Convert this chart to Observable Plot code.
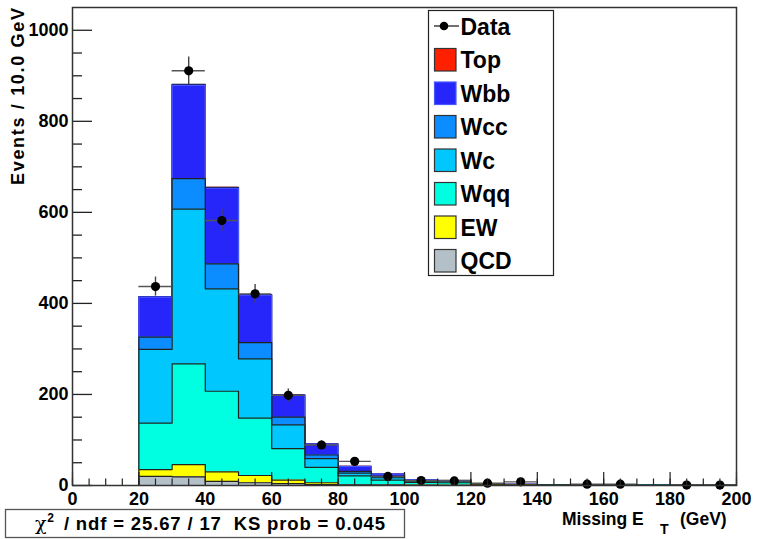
<!DOCTYPE html>
<html><head><meta charset="utf-8">
<script src="https://cdn.jsdelivr.net/npm/d3@7"></script>
<script src="https://cdn.jsdelivr.net/npm/@observablehq/plot@0.6"></script>
<style>
body{margin:0;background:#fff;}
#chart{position:relative;width:758px;height:539px;}
</style></head><body><div id="chart"></div>
<script>
// ---- data ----
const binLow = [20,30,40,50,60,70,80,90,100,110,120,130,140,150,160,170,180,190];
const binWidth = 10;
const components = ["QCD","EW","Wqq","Wc","Wcc","Wbb","Top"];
const qcd = [20,19,9,6,4,2,1,1,0.5,0.3,0.2,0.2,0.1,0.1,0.1,0.05,0.05,0.05];
const ew  = [15,27,21,16,8,4,1,0.5,0.5,0.3,0.2,0.1,0.1,0.1,0.05,0.05,0.05,0.05];
const wqq = [102,221,177,126,69,34,19,10.5,6,5.4,1.6,1.4,0.8,0.6,0.5,0.3,0.2,0.2];
const wc  = [162,340,225,130,52,19,6,5,1,1.5,0.4,0.3,0.2,0.2,0.1,0.1,0.1,0.05];
const wcc = [27,67,55,36,17,8,4,3,1.5,1.5,0.3,0.2,0.1,0.1,0.1,0.05,0.05,0.05];
const wbb = [88,205,166,104,48,24,11,5,3,2,0.6,0.3,0.2,0.2,0.1,0.1,0.05,0.05];
const topq = [1,2,2,1.5,1,0.5,0.3,0.2,0.1,0.1,0.1,0.05,0.05,0.05,0.05,0.02,0.02,0.02];
const compColors = ["#b4c0c8","#ffff00","#00ffe0","#00c8ff","#0b8cff","#2626fa","#ff2000"];
const compLines  = ["#222","#222","#222","#222","#222","#4a58ff","#111"];
const dataX = [25,35,45,55,65,75,85,95,105,115,125,135,155,165,185,195];
const dataY = [437,911,582,421,198,89,53,20,11,10,5,8,3,3,1,1];
const yTicks = [0,200,400,600,800,1000];
const yMinorTicks = [50,100,150,250,300,350,450,500,550,650,700,750,850,900,950];
const xTicks = [0,20,40,60,80,100,120,140,160,180,200];
const legendLabels = ["Data","Top","Wbb","Wcc","Wc","Wqq","EW","QCD"];
const yTitle = "Events / 10.0 GeV";
const fitText = ["/ ndf = 25.67 / 17  KS prob = 0.045"];

// ---- derived tables ----
const layers = [qcd, ew, wqq, wc, wcc, wbb, topq];
const cum = [];
let run = binLow.map(() => 0);
layers.forEach(arr => { run = run.map((v, i) => v + arr[i]); cum.push(run.slice()); });
const lastEdge = binLow[binLow.length - 1] + binWidth;
const stepRows = c => [...binLow.map((x, i) => ({x, y: c[i]})), {x: lastEdge, y: c[c.length - 1]}];
const outlineRows = c => [{x: binLow[0], y: 0}, ...stepRows(c), {x: lastEdge, y: 0}];
const points = dataX.map((x, i) => ({x, y: dataY[i], e: Math.sqrt(dataY[i])}));
const fmt = d3.format("d");

const W = 758, H = 539, ML = 72, MR = 22, MT = 7, MB = 54;
const frameW = W - ML - MR;

const marks = [];
for (let k = layers.length - 1; k >= 0; k--) {
  marks.push(Plot.areaY(stepRows(cum[k]), {x: "x", y1: () => 0, y2: "y", curve: "step-after", fill: compColors[k]}));
  marks.push(Plot.lineY(outlineRows(cum[k]), {x: "x", y: "y", curve: "step-after", stroke: compLines[k], strokeWidth: 1.2}));
}
marks.push(
  Plot.ruleY(points, {y: "y", x1: d => d.x - binWidth / 2, x2: d => d.x + binWidth / 2, stroke: "#555", strokeWidth: 1.4}),
  Plot.ruleX(points, {x: "x", y1: d => d.y - d.e, y2: d => d.y + d.e, stroke: "#444", strokeWidth: 1.4}),
  Plot.dot(points, {x: "x", y: "y", r: 4.6, fill: "#000", stroke: "none"}),
  Plot.tickY(yMinorTicks, {y: d => d, stroke: "#222", strokeWidth: 1.3, insetRight: frameW - 10}),
  Plot.tickY(yTicks, {y: d => d, stroke: "#222", strokeWidth: 1.3, insetRight: frameW - 20}),
  Plot.axisY({ticks: yTicks, tickSize: 0, tickPadding: 4, tickFormat: fmt, label: null, fontSize: 18, fontWeight: "bold"}),
  Plot.axisX({ticks: d3.range(0, 201, 5), tickSize: -6.5, tickFormat: () => "", label: null, stroke: "#222", strokeWidth: 1.2}),
  Plot.axisX({ticks: xTicks, tickSize: -13, tickFormat: () => "", label: null, stroke: "#222", strokeWidth: 1.2}),
  Plot.axisX({ticks: xTicks, tickSize: 0, tickPadding: 7, tickFormat: fmt, label: null, fontSize: 18, fontWeight: "bold"}),
  Plot.frame({stroke: "#333", strokeWidth: 1.5})
);

const chart = Plot.plot({
  width: W, height: H,
  marginLeft: ML, marginRight: MR, marginTop: MT, marginBottom: MB,
  x: {domain: [0, 200]},
  y: {domain: [0, 1050]},
  style: {fontFamily: "'Liberation Sans', Arial, sans-serif", fontSize: "18px", fontWeight: "bold", color: "#000", background: "#fff", overflow: "visible"},
  marks
});
document.getElementById("chart").appendChild(chart);

// ---- annotations: axis titles, legend, fit box ----
const svg = d3.select(chart);
const font = "'Liberation Sans', Arial, sans-serif";
svg.append("text")
  .attr("transform", "translate(24,8) rotate(-90)")
  .attr("text-anchor", "end").attr("font-family", font).attr("font-size", 18).attr("font-weight", "bold")
  .attr("textLength", 177).attr("lengthAdjust", "spacing")
  .attr("fill", "#000").text(yTitle);

const xt = svg.append("text").attr("font-family", font).attr("font-weight", "bold").attr("fill", "#000").attr("text-anchor", "start");
xt.append("tspan").attr("x", 562).attr("y", 525).attr("font-size", 17.5).text("Missing E");
xt.append("tspan").attr("x", 660).attr("y", 534).attr("font-size", 14).text("T");
xt.append("tspan").attr("x", 680).attr("y", 525).attr("font-size", 17.5).text("(GeV)");

// legend
const lg = svg.append("g").attr("text-anchor", "start");
lg.append("rect").attr("x", 428.5).attr("y", 10.5).attr("width", 125).attr("height", 265)
  .attr("fill", "#fff").attr("stroke", "#222").attr("stroke-width", 1.2);
legendLabels.forEach((lab, i) => {
  const cy = 26 + i * 33.5;
  if (i === 0) {
    lg.append("line").attr("x1", 434).attr("x2", 459).attr("y1", cy).attr("y2", cy).attr("stroke", "#333").attr("stroke-width", 1.4);
    lg.append("circle").attr("cx", 444).attr("cy", cy).attr("r", 4.3).attr("fill", "#000");
  } else {
    const k = components.indexOf(lab);
    lg.append("rect").attr("x", 434.5).attr("y", cy - 11).attr("width", 21.5).attr("height", 22.5)
      .attr("fill", compColors[k]).attr("stroke", k === 5 ? "#4a58ff" : "#333").attr("stroke-width", 1.2);
  }
  lg.append("text").attr("x", 460.5).attr("y", cy + 8.5).attr("font-family", font).attr("font-size", 23)
    .attr("font-weight", "bold").attr("fill", "#000").attr("text-anchor", "start").text(lab);
});

// fit box
const fb = svg.append("g").attr("text-anchor", "start");
fb.append("rect").attr("x", 5.5).attr("y", 509.5).attr("width", 399).attr("height", 28)
  .attr("fill", "#fff").attr("stroke", "#555").attr("stroke-width", 1.3);
const ft = fb.append("text").attr("x", 35).attr("y", 530).attr("font-family", font).attr("font-size", 18.5)
  .attr("font-weight", "bold").attr("fill", "#000").attr("text-anchor", "start").style("white-space", "pre")
  .attr("textLength", 350).attr("lengthAdjust", "spacing");
ft.append("tspan").attr("font-family", "'DejaVu Serif', serif").attr("font-weight", "normal").attr("font-size", 19).text("\u03C7");
ft.append("tspan").attr("dy", -8).attr("font-size", 12).text("2");
ft.append("tspan").attr("dy", 8).attr("dx", 3).text(" " + fitText[0]);
</script></body></html>
